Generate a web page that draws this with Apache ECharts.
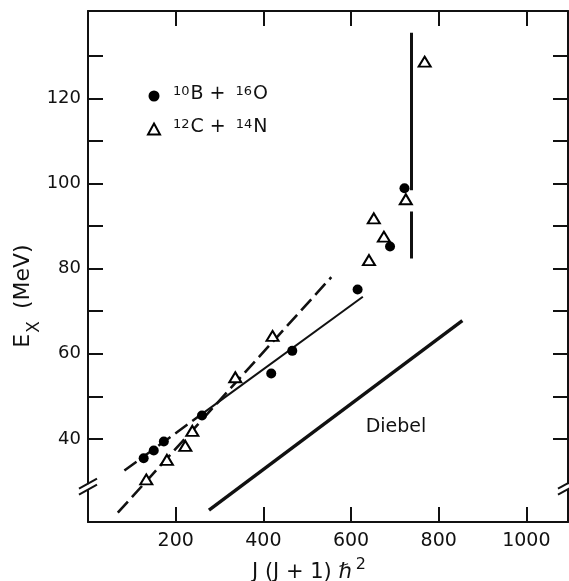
<!DOCTYPE html>
<html><head><meta charset="utf-8">
<script src="https://cdn.jsdelivr.net/npm/echarts@6/dist/echarts.min.js"></script>
<style>html,body{margin:0;padding:0;background:#fff}#c{width:569px;height:581px}</style>
</head><body><div id="c"></div>
<script>
// ---- data ----
const boronX = [127, 150, 173, 260, 418, 466, 615, 689, 722];
const boronY = [35.5, 37.3, 39.4, 45.5, 55.4, 60.7, 75.1, 85.2, 98.9];
const carbonX = [133, 180, 222, 238, 336, 421, 641, 675, 652, 725, 768];
const carbonY = [30.5, 35.1, 38.4, 41.9, 54.5, 64.2, 82.0, 87.5, 91.8, 96.3, 128.6];
const boronFitDashX = [83, 255];
const boronFitDashY = [32.6, 45.5];
const boronFitSolidX = [255, 627];
const boronFitSolidY = [45.5, 73.4];
const carbonFitX = [68, 555];
const carbonFitY = [22.7, 78.0];
const diebelX = [276, 854];
const diebelY = [23.3, 67.8];
const limitUpperX = [738, 738];
const limitUpperY = [135.4, 98.4];
const limitLowerX = [738, 738];
const limitLowerY = [93.4, 82.4];
const xTickValues = [200, 400, 600, 800, 1000];
const yLabelValues = [40, 60, 80, 100, 120];
const yTickValues = [40, 50, 60, 70, 80, 90, 100, 110, 120, 130];
const yBreakAt = 28.8;

const pair = (xs, ys) => xs.map((x, i) => [x, ys[i]]);
const FONT = 'DejaVu Sans';
const INK = '#111';

const chart = echarts.init(document.getElementById('c'), null, {renderer: 'canvas'});

const axisCommon = {
  type: 'value',
  axisLine: {show: true, onZero: false, lineStyle: {color: INK, width: 2}},
  splitLine: {show: false},
};
function xAx(pos, labels) {
  return Object.assign({}, axisCommon, {
    position: pos, min: 0, max: 1095,
    axisTick: {show: true, inside: true, length: 15, lineStyle: {color: INK, width: 2}, customValues: xTickValues},
    axisLabel: {show: labels, customValues: xTickValues, color: INK, fontFamily: FONT, fontSize: 19, margin: 10,
      formatter: v => String(v)},
  });
}
function yAx(pos, labels) {
  return Object.assign({}, axisCommon, {
    position: pos, min: 20.51, max: 140.5,
    axisTick: {show: true, inside: true, length: 15, lineStyle: {color: INK, width: 2}, customValues: yTickValues},
    axisLabel: {show: labels, customValues: yLabelValues, color: INK, fontFamily: FONT, fontSize: 18, margin: 7,
      formatter: v => String(v)},
  });
}
function lineSeries(name, xs, ys, width, dash) {
  return {
    name, type: 'line', data: pair(xs, ys), symbol: 'none', silent: true, z: 2,
    lineStyle: {color: INK, width, type: dash ? [15, 6] : 'solid', cap: 'butt', opacity: 1},
  };
}

chart.setOption({
  backgroundColor: '#fff',
  animation: false,
  grid: {left: 88, right: 1, top: 11, bottom: 59},
  xAxis: [xAx('bottom', true), xAx('top', false)],
  yAxis: [yAx('left', true), yAx('right', false)],
  legend: {
    orient: 'vertical', left: 142, top: 80, itemWidth: 12, itemHeight: 11, itemGap: 14,
    selectedMode: false,
    data: ['boron', 'carbon'],
    formatter: n => n === 'boron' ? '{f|10}{n|B + }{s|16}{n|O}' : '{f|12}{n|C + }{s|14}{n|N}',
    textStyle: {
      color: INK, fontFamily: FONT,
      rich: {
        f: {fontSize: 13, fontFamily: FONT, color: INK, verticalAlign: 'bottom', padding: [0, 1, 9, 8]},
        s: {fontSize: 13, fontFamily: FONT, color: INK, verticalAlign: 'bottom', padding: [0, 1, 9, 4]},
        n: {fontSize: 19, fontFamily: FONT, color: INK, verticalAlign: 'bottom', padding: [0, 0, 3, 0]},
      },
    },
  },
  series: [
    lineSeries('fitB1', boronFitDashX, boronFitDashY, 2.5, true),
    lineSeries('fitB2', boronFitSolidX, boronFitSolidY, 2, false),
    lineSeries('fitC', carbonFitX, carbonFitY, 2.6, true),
    lineSeries('diebel', diebelX, diebelY, 3.4, false),
    lineSeries('limU', limitUpperX, limitUpperY, 3, false),
    lineSeries('limL', limitLowerX, limitLowerY, 3, false),
    {
      name: 'boron', type: 'scatter', data: pair(boronX, boronY), symbol: 'circle', symbolSize: 10, z: 5,
      itemStyle: {color: '#000', borderWidth: 0, opacity: 1},
    },
    {
      name: 'carbon', type: 'scatter', data: pair(carbonX, carbonY), symbol: 'triangle', symbolSize: [12, 10], z: 5,
      itemStyle: {color: '#fff', borderColor: '#000', borderWidth: 2, opacity: 1},
    },
  ],
});

// decorations: axis breaks, titles, Diebel label
const yb = chart.convertToPixel({yAxisIndex: 0}, yBreakAt);
const xl = chart.convertToPixel({xAxisIndex: 0}, 0);
const xr = chart.convertToPixel({xAxisIndex: 0}, 1095) - 1;
function brk(cx) {
  return [
    {type: 'rect', shape: {x: cx - 3, y: yb - 2.5, width: 6, height: 5}, style: {fill: '#fff'}, z: 10},
    {type: 'line', shape: {x1: cx - 9, y1: yb + 2, x2: cx + 9, y2: yb - 8}, style: {stroke: INK, lineWidth: 2}, z: 11},
    {type: 'line', shape: {x1: cx - 9, y1: yb + 8, x2: cx + 9, y2: yb - 2}, style: {stroke: INK, lineWidth: 2}, z: 11},
  ];
}
chart.setOption({
  graphic: [
    ...brk(xl), ...brk(xr),
    {
      type: 'text', x: 396, y: 427, z: 12,
      style: {text: 'Diebel', font: '19px "DejaVu Sans"', fill: INK, align: 'center', verticalAlign: 'middle'},
    },
    {
      type: 'text', x: 309, y: 570, z: 12,
      style: {
        text: '{t|J (J + 1) ℏ}{s|2}', align: 'center', verticalAlign: 'middle', fill: INK,
        rich: {
          t: {fontSize: 21, fontFamily: FONT, fill: INK, verticalAlign: 'bottom'},
          s: {fontSize: 16, fontFamily: FONT, fill: INK, verticalAlign: 'bottom', padding: [0, 0, 10, 4]},
        },
      },
    },
    {
      type: 'text', x: 28, y: 296, rotation: Math.PI / 2, z: 12,
      style: {
        text: '{e|E}{x|X}{e| (MeV)}', align: 'center', verticalAlign: 'middle', fill: INK,
        rich: {
          e: {fontSize: 22, fontFamily: FONT, fill: INK, verticalAlign: 'bottom', padding: [0, 0, 9, 0]},
          x: {fontSize: 17, fontFamily: FONT, fill: INK, verticalAlign: 'bottom', padding: [0, 5, 0, 1]},
        },
      },
    },
  ],
});
</script></body></html>
